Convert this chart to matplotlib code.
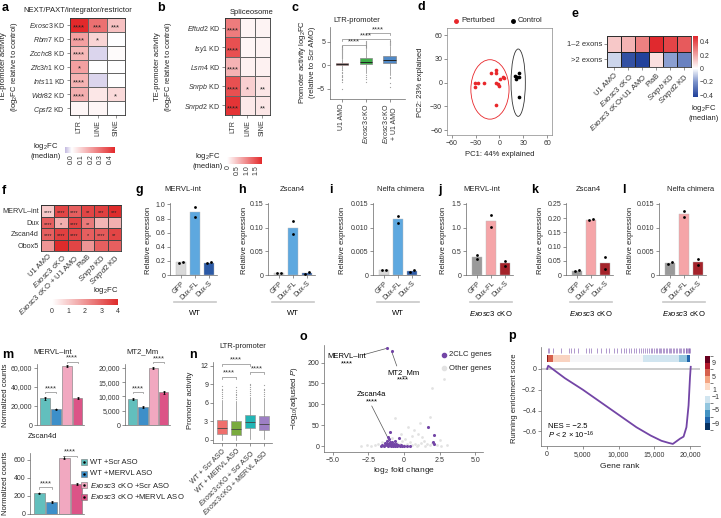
import numpy as np
import matplotlib
matplotlib.use('Agg')
import matplotlib.pyplot as plt
from matplotlib.colors import LinearSegmentedColormap, Normalize, ListedColormap, BoundaryNorm
from matplotlib.cm import ScalarMappable
from matplotlib.patches import Ellipse, Rectangle
from matplotlib.lines import Line2D

plt.rcParams['font.family'] = ['Liberation Sans', 'DejaVu Sans']
plt.rcParams['mathtext.fontset'] = 'custom'
plt.rcParams['mathtext.rm'] = 'Liberation Sans'
plt.rcParams['mathtext.it'] = 'Liberation Sans:italic'
plt.rcParams['mathtext.bf'] = 'Liberation Sans:bold'
plt.rcParams['font.size'] = 5
plt.rcParams['axes.linewidth'] = 0.5
plt.rcParams['axes.edgecolor'] = '#666666'
for k in ['xtick', 'ytick']:
    plt.rcParams[k + '.major.width'] = 0.5
    plt.rcParams[k + '.major.size'] = 2
    plt.rcParams[k + '.major.pad'] = 1.5
    plt.rcParams[k + '.labelsize'] = 5
    plt.rcParams[k + '.color'] = '#666666'
    plt.rcParams[k + '.labelcolor'] = '#333333'

# ---------------- data ----------------
te_cols = ['LTR', 'LINE', 'SINE']
a_rows = [r'$\it{Exosc3}$ KD', r'$\it{Rbm7}$ KD', r'$\it{Zcchc8}$ KD', r'$\it{Zfc3h1}$ KO',
          r'$\it{Ints11}$ KD', r'$\it{Wdr82}$ KD', r'$\it{Cpsf2}$ KD']
a_vals = [[0.45, 0.30, 0.13], [0.20, 0.09, 0.0], [0.15, -0.04, 0.01], [0.20, 0.0, 0.0],
          [0.16, -0.04, 0.0], [0.17, 0.05, 0.08], [0.02, 0.02, 0.0]]
a_stars = [['****', '***', '***'], ['****', '*', ''], ['****', '', ''], ['*', '', ''],
           ['****', '', ''], ['****', '', '*'], ['', '', '']]

b_rows = [r'$\it{Eftud2}$ KD', r'$\it{Isy1}$ KD', r'$\it{Lsm4}$ KD', r'$\it{Snrpb}$ KD', r'$\it{Snrpd2}$ KD']
b_vals = [[1.1, 0.02, 0.03], [1.5, 0.01, 0.03], [0.6, 0.05, 0.05], [1.5, 0.35, 0.15], [1.75, 0.12, 0.15]]
b_stars = [['****', '', ''], ['****', '', ''], ['****', '', ''], ['****', '*', '**'], ['****', '', '**']]

c_groups = ['U1 AMO', r'$\it{Exosc3}$ cKO', r'$\it{Exosc3}$ cKO' + '\n+ U1 AMO']
c_med = [0.25, 0.8, 1.1]
c_q1 = [0.0, 0.25, 0.4]
c_q3 = [0.6, 1.6, 2.0]
c_lo = [-0.8, -1.6, -2.0]
c_hi = [1.4, 3.6, 4.2]
c_fliers = [[-5.0, -3.6, -3.2, -2.9, -2.6, -2.3, -2.0, -1.7, -1.4, -1.1, 1.6, 1.8, 2.0, 2.2, 2.4,
             2.6, 2.8, 3.0, 3.2, 3.4, 3.6, 3.8, 4.0, 4.2],
            [-3.6, -3.0, -2.5, -2.1, 3.8, 4.0, 4.2, 4.4, 4.6, 4.8, 5.0, 5.2],
            [-4.6, -3.8, -2.8, -2.4, 4.4, 4.6, 4.8, 5.0, 5.2]]

d_pert_x = [-31, -31, -27, -20, -11, -5, -5, -4, -1, 1, 4, 6, -4, -2]
d_pert_y = [-1, -6, -1, 0, 12, 16, 12, 0, -4, 5, 7, 6, -28, -2]
d_ctrl_x = [19, 21, 22, 24, 25, 25]
d_ctrl_y = [8, 5, 7, 7, 12, -18]

e_rows = ['1–2 exons', '>2 exons']
e_cols = ['U1 AMO', r'$\it{Exosc3}$ cKO', r'$\it{Exosc3}$ cKO+U1 AMO', 'PlaB',
          r'$\it{Snrpb}$ KD', r'$\it{Snrpd2}$ KD']
e_vals = [[0.12, 0.17, 0.28, 0.48, 0.42, 0.37], [-0.08, -0.38, -0.42, 0.07, -0.18, -0.25]]

f_rows = ['MERVL\u2013int', 'Dux', 'Zscan4d', 'Obox5']
f_cols = ['U1 AMO', r'$\it{Exosc3}$ cKO', r'$\it{Exosc3}$ cKO + U1 AMO', 'PlaB',
          r'$\it{Snrpb}$ KD', r'$\it{Snrpd2}$ KD']
f_vals = [[1.0, 3.5, 3.0, 3.5, 3.6, 4.0], [3.0, 1.5, 3.5, 2.5, 1.4, 1.5],
          [3.0, 3.6, 3.5, 3.0, 3.1, 3.5], [2.0, 4.0, 3.5, 2.0, 3.0, 3.0]]
f_stars = [['****', '****', '****', '**', '***', '***'], ['****', '*', '****', '**', '', ''],
           ['****', '****', '****', '*', '****', '**'], ['', '', '', '', '', '']]

dux_labels = ['GFP', 'Dux-FL', 'Dux-S']
g_reps = [[0.175, 0.185], [0.96, 0.82], [0.17, 0.18]]
h_reps = [[0.004, 0.004], [0.113, 0.087], [0.003, 0.007]]
i_reps = [[0.0011, 0.0011], [0.0125, 0.011], [0.0007, 0.0010]]
j_reps = [[0.42, 0.33], [1.26, 1.02], [0.30, 0.20]]
k_reps = [[0.013, 0.016], [0.193, 0.197], [0.062, 0.020]]
l_reps = [[0.0023, 0.0027], [0.0135, 0.0122], [0.0033, 0.0022]]

m_labels = ['WT +Scr ASO', 'WT +MERVL ASO', r'$\it{Exosc3}$ cKO +Scr ASO', r'$\it{Exosc3}$ cKO +MERVL ASO']
m_mervl = [28000, 16500, 62000, 28500]
m_mervl_err = [1500, 800, 1200, 1200]
m_mt2 = [9000, 6200, 20000, 11500]
m_mt2_err = [400, 300, 300, 600]
m_zscan = [228, 130, 625, 330]
m_zscan_err = [8, 12, 20, 12]

n_groups = ['WT + Scr ASO', 'WT + MERVL ASO', r'$\it{Exosc3}$ cKO + Scr ASO', r'$\it{Exosc3}$ cKO + MERVL ASO']
n_med = [2.0, 1.7, 2.9, 2.5]
n_q1 = [1.0, 0.8, 1.9, 1.6]
n_q3 = [3.2, 3.0, 4.0, 3.8]
n_lo = [0.0, 0.0, 0.2, 0.1]
n_hi = [6.5, 6.3, 7.0, 6.8]
n_fliers = [[6.8, 7.1, 7.4, 7.7, 8.0, 8.3, 8.7], [6.6, 6.9, 7.2, 7.5, 7.8, 8.1, 8.5],
            [7.3, 7.6, 7.9, 8.2, 8.5, 8.8, 9.1], [7.1, 7.4, 7.7, 8.0, 8.3, 8.8]]

o_clc_lfc = [-1.6, -1.5, -1.4, -1.3, -1.2, -1.2, -1.1, -1.1, -1.0, -1.0, -0.95, -0.9, -0.9, -0.85,
             -0.8, -0.8, -0.75, -0.7, -0.7, -0.65, -0.6, -0.55, -0.5, -0.45, -0.4, -0.3, -0.2,
             -0.1, 0.0, 0.2, 0.4, -1.3, -1.15, -1.05, -0.95, -0.6, -0.35, -1.0, -1.13, 1.7, 2.1,
             2.05, 2.1, -0.84, -1.17]
o_clc_p = [1, 2, 1, 3, 2, 5, 1, 4, 2, 7, 3, 1, 5, 9, 2, 4, 1, 6, 3, 2, 1, 4, 2, 1, 3, 1, 2, 1, 1,
           1, 1, 8, 12, 16, 11, 13, 19, 34, 21, 47, 26, 9, 4, 227, 236]
o_other_lfc = [-3.0, -2.6, -2.3, -2.0, -1.8, -1.5, -1.2, -0.8, -0.5, -0.3, 0.0, 0.2, 0.4, 0.6, 0.8,
               1.0, 1.2, 1.4, 1.6, 1.8, 2.0, 2.3, 2.6, 3.0, 0.3, -0.6, 1.8, 1.0, 1.3, 0.6, 2.5,
               1.1, 2.0, 2.8, -0.2, 0.9, 1.5, -0.1, 0.1, 0.7]
o_other_p = [1, 2, 1, 3, 6, 9, 14, 20, 8, 4, 2, 6, 10, 3, 5, 2, 8, 12, 4, 2, 7, 3, 1, 2, 45, 68,
             70, 30, 22, 25, 15, 55, 139, 160, 28, 1, 1, 12, 18, 38]

p_rank = [0, 150, 2500, 5000, 7500, 10000, 12500, 14500, 16000, 17000, 17600, 18000, 18600,
          19100, 19500, 19800, 20000, 20100]
p_es = [0.0, 0.03, -0.09, -0.20, -0.32, -0.44, -0.56, -0.64, -0.69, -0.71, -0.72, -0.70, -0.67,
        -0.65, -0.56, -0.35, -0.08, 0.02]
p_hits = [50, 300, 800, 1900, 3000, 3400, 3800, 4300, 5400, 5800, 6200, 7000, 7500, 8300, 8700,
          9400, 9800, 10300, 10700, 11100, 11400, 11800, 12100, 12500, 12800, 13100, 13400,
          13700, 14000, 14200, 14500, 14700, 15000, 15200, 15400, 15600, 15800, 16000, 16200,
          16400, 16600, 16800, 17000, 17200, 17400, 17600, 17800, 18000, 18200, 18400, 18600,
          18800, 19000, 19200, 19400, 19500, 19600, 19700, 19800, 19900, 20000]
p_strip_start = [0, 150, 800, 3200, 13400, 18400, 19600]
p_strip_end = [150, 800, 3200, 13400, 18400, 19600, 20050]
p_strip_col = ['#8b1a1a', '#d6604d', '#f9d3c1', '#f6f6f8', '#d1e5f0', '#92c5de', '#2166ac']
p_bar_colors = ['#053061', '#2166ac', '#4393c3', '#92c5de', '#d1e5f0', '#ffffff',
                '#fddbc7', '#f4a582', '#d6604d', '#b2182b', '#67001f']

# ---------------- helpers ----------------
W, H = 721.0, 518.0
fig = plt.figure(figsize=(7.21, 5.18), dpi=100)


def pax(x0, y0, x1, y1):
    return fig.add_axes([x0 / W, 1 - y1 / H, (x1 - x0) / W, (y1 - y0) / H])


def ftxt(x, y, s, **kw):
    kw.setdefault('ha', 'center')
    kw.setdefault('va', 'center')
    kw.setdefault('color', '#222222')
    fig.text(x / W, 1 - y / H, s, **kw)


def plabel(x, y, s):
    ftxt(x, y, s, ha='left', fontsize=9, fontweight='bold', color='black')


def lr_only(ax):
    ax.spines['top'].set_visible(False)
    ax.spines['right'].set_visible(False)


def heatmap(ax, vals, cmap, norm, rows, cols, stars=None, fs=5.5, edge='#666666'):
    arr = np.array(vals, dtype=float)
    ax.pcolormesh(arr, cmap=cmap, norm=norm, edgecolors=edge, linewidth=0.5)
    ax.set_xlim(0, arr.shape[1])
    ax.set_ylim(arr.shape[0], 0)
    ax.set_xticks(np.arange(arr.shape[1]) + 0.5)
    ax.set_yticks(np.arange(arr.shape[0]) + 0.5)
    ax.set_yticklabels(rows)
    ax.set_xticklabels(cols)
    if stars:
        for i, row in enumerate(stars):
            for j, s in enumerate(row):
                if s:
                    ax.text(j + 0.5, i + 0.68, s, ha='center', va='center', fontsize=fs, color='#222222')
    for sp in ax.spines.values():
        sp.set_color('#333333')
        sp.set_linewidth(0.6)


def bracket(ax, x1, x2, y, h, txt, fs=5.5):
    ax.plot([x1, x1, x2, x2], [y - h, y, y, y - h], color='#888888', lw=0.5, clip_on=False)
    ax.text((x1 + x2) / 2, y, txt, ha='center', va='bottom', fontsize=fs, color='#333333', clip_on=False)


def box_stats(med, q1, q3, lo, hi, fl):
    return [dict(med=m, q1=a, q3=b, whislo=c, whishi=d, fliers=f)
            for m, a, b, c, d, f in zip(med, q1, q3, lo, hi, fl)]


# ---------------- a ----------------
plabel(2, 8, 'a')
ftxt(78, 11, 'NEXT/PAXT/integrator/restrictor', fontsize=5.5)
cmap_a = LinearSegmentedColormap.from_list('a', [(0, '#c3b9e0'), (0.135, '#ffffff'), (1, '#e3292b')])
norm_a = Normalize(-0.07, 0.45)
ax = pax(70, 18, 125, 115)
heatmap(ax, a_vals, cmap_a, norm_a, a_rows, te_cols, a_stars)
ax.tick_params(axis='x', labelrotation=90)
ftxt(10, 67, 'TE-promoter activity\n(log$_2$FC relative to control)', rotation=90, fontsize=5.5)
cax = pax(65, 147, 115, 153)
cb = fig.colorbar(ScalarMappable(norm_a, cmap_a), cax=cax, orientation='horizontal')
cb.outline.set_visible(False)
cb.set_ticks([0, 0.1, 0.2, 0.3, 0.4])
cb.ax.tick_params(length=0, pad=1, labelrotation=90, labelsize=5)
ftxt(46, 151, 'log$_2$FC\n(median)', fontsize=5.5)

# ---------------- b ----------------
plabel(157, 8, 'b')
ftxt(252, 12, 'Spliceosome', fontsize=5.5)
cmap_b = LinearSegmentedColormap.from_list('b', ['#ffffff', '#e3292b'])
norm_b = Normalize(-0.08, 1.85)
ax = pax(225, 18, 270, 115)
heatmap(ax, b_vals, cmap_b, norm_b, b_rows, te_cols, b_stars)
ax.tick_params(axis='x', labelrotation=90)
ftxt(164, 67, 'TE-promoter activity\n(log$_2$FC relative to control)', rotation=90, fontsize=5.5)
cax = pax(227, 157, 262, 164)
cb = fig.colorbar(ScalarMappable(norm_b, cmap_b), cax=cax, orientation='horizontal')
cb.outline.set_visible(False)
cb.set_ticks([0, 0.5, 1.0, 1.5])
cb.set_ticklabels(['0', '0.5', '1.0', '1.5'])
cb.ax.tick_params(length=0, pad=1, labelrotation=90, labelsize=5)
ftxt(208, 160, 'log$_2$FC\n(median)', fontsize=5.5)

# ---------------- c ----------------
plabel(292, 8, 'c')
ftxt(357, 21, 'LTR-promoter', fontsize=5.5)
ax = pax(330, 27, 405, 99)
bp = ax.bxp(box_stats(c_med, c_q1, c_q3, c_lo, c_hi, c_fliers), positions=[0, 1, 2], widths=0.52,
            patch_artist=True, showfliers=True,
            flierprops=dict(marker='o', ms=0.9, mfc='#a0a0a0', mec='none'),
            medianprops=dict(color='#222222', lw=0.7),
            whiskerprops=dict(color='#888888', lw=0.5), capprops=dict(color='#888888', lw=0))
for patch, col in zip(bp['boxes'], ['#e25a5a', '#3fae49', '#5089c6']):
    patch.set_facecolor(col)
    patch.set_edgecolor('#888888')
    patch.set_linewidth(0.5)
ax.set_xlim(-0.5, 2.65)
ax.set_ylim(-7.2, 8.2)
ax.set_yticks([-5, 0, 5])
ax.set_yticklabels(['\u22125', '0', '5'])
ax.set_xticks([0, 1, 2])
ax.set_xticklabels(c_groups, rotation=90)
lr_only(ax)
bracket(ax, 0, 1, 4.3, 0.4, '****')
bracket(ax, 0, 2, 5.6, 0.4, '****')
bracket(ax, 1, 2, 6.9, 0.4, '****')
ftxt(307, 62, 'Promoter activity log$_2$FC\n(relative to Scr AMO)', rotation=90, fontsize=5.5)

# ---------------- d ----------------
plabel(417, 7, 'd')
ax = pax(447, 28, 552, 135)
ax.scatter(d_pert_x, d_pert_y, s=7, color='#e8262a', linewidths=0, zorder=3)
ax.scatter(d_ctrl_x, d_ctrl_y, s=7, color='black', linewidths=0, zorder=3)
ax.add_patch(Ellipse((-12, -8.5), 48, 75, fill=False, ec='#e8262a', lw=0.6))
ax.add_patch(Ellipse((23.5, 0), 18, 85, fill=False, ec='#333333', lw=0.6))
ax.set_xlim(-66, 66)
ax.set_ylim(-66, 69)
ax.set_xticks([-60, -30, 0, 30, 60])
ax.set_xticklabels(['\u221260', '\u221230', '0', '30', '60'])
ax.set_yticks([-60, -30, 0, 30, 60])
ax.set_yticklabels(['\u221260', '\u221230', '0', '30', '60'])
for sp in ax.spines.values():
    sp.set_color('#888888')
ftxt(500, 155, 'PC1: 44% explained', fontsize=5.5)
ftxt(421, 82, 'PC2: 23% explained', rotation=90, fontsize=5.5)
fig.add_artist(Line2D([456 / W], [1 - 21 / H], marker='o', ms=2.5, color='#e8262a', lw=0, transform=fig.transFigure))
ftxt(461, 21, 'Perturbed', ha='left', fontsize=5.5)
fig.add_artist(Line2D([513 / W], [1 - 21 / H], marker='o', ms=2.5, color='black', lw=0, transform=fig.transFigure))
ftxt(518, 21, 'Control', ha='left', fontsize=5.5)

# ---------------- e ----------------
plabel(571, 14, 'e')
cmap_e = LinearSegmentedColormap.from_list('e', [(0, '#1f3f99'), (0.25, '#7f95cc'), (0.467, '#ffffff'),
                                                  (0.75, '#ee8a8a'), (1, '#e0262b')])
norm_e = Normalize(-0.43, 0.49)
ax = pax(607, 36, 691, 67)
heatmap(ax, e_vals, cmap_e, norm_e, e_rows, e_cols, edge='#222222')
ax.set_xticklabels(e_cols, rotation=45, ha='right', rotation_mode='anchor')
ax.tick_params(labelsize=5.5)
cax = pax(693, 36, 698, 97)
cb = fig.colorbar(ScalarMappable(norm_e, cmap_e), cax=cax, orientation='vertical')
cb.outline.set_visible(False)
cb.set_ticks([0.4, 0.2, 0, -0.2, -0.4])
cb.set_ticklabels(['0.4', '0.2', '0', '\u22120.2', '\u22120.4'])
cb.ax.tick_params(length=0, pad=1.5, labelsize=5)
ftxt(704, 112, 'log$_2$FC\n(median)', fontsize=5.5)

# ---------------- f ----------------
plabel(2, 191, 'f')
cmap_f = LinearSegmentedColormap.from_list('f', ['#ffffff', '#de2b2b'])
norm_f = Normalize(0, 4)
ax = pax(41, 205, 121, 251)
heatmap(ax, f_vals, cmap_f, norm_f, f_rows, f_cols, f_stars, fs=4, edge='#444444')
ax.set_xticklabels(f_cols, rotation=45, ha='right', rotation_mode='anchor')
ax.tick_params(axis='x', labelsize=5.5, length=0)
ax.tick_params(axis='y', labelsize=5.2, length=0, pad=1.5)
cax = pax(52, 299, 118, 305)
cb = fig.colorbar(ScalarMappable(norm_f, cmap_f), cax=cax, orientation='horizontal')
cb.outline.set_visible(False)
cb.set_ticks([0, 1, 2, 3, 4])
cb.ax.tick_params(length=0, pad=2, labelsize=5)
ftxt(118, 291, 'log$_2$FC', ha='right', fontsize=5.5)

# ---------------- g-l ----------------
wt_cols = ['#d9d9d9', '#5ea8df', '#2c5aa6']
ko_cols = ['#9a9a9a', '#f5a5a8', '#a5232a']
bar_specs = [
    ('g', 136, 170, 183, 'MERVL-int', g_reps, wt_cols, 1.02, [0, 0.2, 0.4, 0.6, 0.8, 1.0],
     ['0', '0.2', '0.4', '0.6', '0.8', '1.0'], 'WT', 148),
    ('h', 238, 268, 292, 'Zscan4', h_reps, wt_cols, 0.152, [0, 0.05, 0.10, 0.15],
     ['0', '0.05', '0.10', '0.15'], 'WT', 245),
    ('i', 329, 373, 401, 'Nelfa chimera', i_reps, wt_cols, 0.0152, [0, 0.005, 0.010, 0.015],
     ['0', '0.005', '0.010', '0.015'], 'WT', 343),
    ('j', 438, 466, 482, 'MERVL-int', j_reps, ko_cols, 1.52, [0, 0.5, 1.0, 1.5],
     ['0', '0.5', '1.0', '1.5'], r'$\it{Exosc3}$ cKO', 444),
    ('k', 531, 566, 588, 'Zscan4', k_reps, ko_cols, 0.253, [0, 0.05, 0.10, 0.15, 0.20, 0.25],
     ['0', '0.05', '0.10', '0.15', '0.20', '0.25'], r'$\it{Exosc3}$ cKO', 540),
    ('l', 622, 659, 691, 'Nelfa chimera', l_reps, ko_cols, 0.0152, [0, 0.005, 0.010, 0.015],
     ['0', '0.005', '0.010', '0.015'], r'$\it{Exosc3}$ cKO', 631),
]
for lab, lx, axx, tx, title, reps, cols, ymax, yt, ytl, grp, ylx in bar_specs:
    plabel(lx, 190, lab)
    ftxt(tx, 190, title, fontsize=5.5)
    ax = pax(axx, 203, axx + 47, 275)
    means = [np.mean(r) for r in reps]
    x = np.arange(3)
    ax.bar(x, means, width=0.65, color=cols, edgecolor='#bbbbbb', linewidth=0.3)
    for xi, r in zip(x, reps):
        off = np.array([-0.14, 0.14]) if abs(r[0] - r[1]) < 0.05 * ymax else np.array([0.0, 0.0])
        ax.scatter(xi + off, r, s=4, color='black', linewidths=0, zorder=3)
    ax.set_xlim(-0.78, 2.57)
    ax.set_ylim(0, ymax)
    ax.set_yticks(yt)
    ax.set_yticklabels(ytl)
    ax.set_xticks(x)
    ax.set_xticklabels(dux_labels, rotation=45, ha='right', rotation_mode='anchor')
    lr_only(ax)
    ax.plot([0.08, 0.98], [-0.38, -0.38], transform=ax.transAxes, clip_on=False, color='#c8c8c8', lw=1.2)
    ax.text(0.53, -0.53, grp, transform=ax.transAxes, ha='center', va='center', fontsize=5.5)
    ftxt(ylx, 240, 'Relative expression', rotation=90, fontsize=5.5)

# ---------------- m ----------------
plabel(2, 355, 'm')
m_cols = ['#62bfbd', '#3d8fc9', '#f1a8c0', '#dc5487']


def m_panel(ax, vals, errs, ymax, yt, ytl):
    x = np.arange(4)
    ax.bar(x, vals, width=0.9, color=m_cols, edgecolor='#777777', linewidth=0.4)
    ax.errorbar(x, vals, yerr=errs, fmt='none', ecolor='black', elinewidth=0.6, capsize=0.8, capthick=0.5)
    ax.scatter(x, vals, s=1.5, color='black', linewidths=0, zorder=3)
    ax.set_xlim(-0.75, 3.6)
    ax.set_ylim(0, ymax)
    ax.set_yticks(yt)
    ax.set_yticklabels(ytl)
    ax.set_xticks([])
    lr_only(ax)


ax = pax(37, 364, 84, 425)
m_panel(ax, m_mervl, m_mervl_err, 64000, [0, 20000, 40000, 60000], ['0', '20,000', '40,000', '60,000'])
bracket(ax, 0, 1, 34700, 1500, '****')
bracket(ax, 2, 3, 66300, 1500, '****')
ftxt(53, 352, 'MERVL\u2013int', fontsize=5.5)

ax = pax(125, 364, 170, 425)
m_panel(ax, m_mt2, m_mt2_err, 21400, [0, 5000, 10000, 15000, 20000], ['0', '5,000', '10,000', '15,000', '20,000'])
bracket(ax, 0, 1, 11600, 500, '****')
bracket(ax, 2, 3, 22100, 500, '****')
ftxt(142, 352, 'MT2_Mm', fontsize=5.5)

ax = pax(30, 453, 84, 514)
m_panel(ax, m_zscan, m_zscan_err, 676, [0, 200, 400, 600], ['0', '200', '400', '600'])
bracket(ax, 0, 1, 295, 15, '****')
bracket(ax, 2, 3, 645, 15, '****')
ftxt(42, 437, 'Zscan4d', fontsize=5.5)
ftxt(6, 395, 'Normalized counts', rotation=90, fontsize=5.5)
ftxt(6, 483, 'Normalized counts', rotation=90, fontsize=5.5)

for i, (lab, col) in enumerate(zip(m_labels, m_cols)):
    yy = 462 + i * 11.5
    fig.add_artist(Rectangle((81 / W, 1 - (yy + 3) / H), 6 / W, 6 / H, transform=fig.transFigure,
                             facecolor=col, edgecolor='#777777', lw=0.4))
    fig.add_artist(Line2D([84 / W], [1 - yy / H], marker='o', ms=0.8, color='black', lw=0,
                          transform=fig.transFigure))
    ftxt(90, yy, lab, ha='left', fontsize=5.5)

# ---------------- n ----------------
plabel(189, 355, 'n')
ftxt(243, 346, 'LTR-promoter', fontsize=5.5)
ax = pax(213, 362, 272, 443)
bp = ax.bxp(box_stats(n_med, n_q1, n_q3, n_lo, n_hi, n_fliers), positions=[0, 1, 2, 3], widths=0.72,
            patch_artist=True, showfliers=True,
            flierprops=dict(marker='o', ms=0.9, mfc='#a0a0a0', mec='none'),
            medianprops=dict(color='#444444', lw=0.6),
            whiskerprops=dict(color='#888888', lw=0.5), capprops=dict(color='#888888', lw=0))
for patch, col in zip(bp['boxes'], ['#ef6f6c', '#7aab3f', '#22b5b5', '#9d7fc4']):
    patch.set_facecolor(col)
    patch.set_edgecolor('#999999')
    patch.set_linewidth(0.5)
ax.set_xlim(-0.64, 3.57)
ax.set_ylim(-0.5, 12.6)
ax.set_yticks([0, 3, 6, 9, 12])
ax.set_xticks([0, 1, 2, 3])
ax.set_xticklabels(n_groups, rotation=45, ha='right', rotation_mode='anchor')
lr_only(ax)
bracket(ax, 0, 1, 10.2, 0.4, '****')
bracket(ax, 0, 2, 12.3, 0.4, '****')
bracket(ax, 2, 3, 11.0, 0.4, '****')
ftxt(191, 400, 'Promoter activity', rotation=90, fontsize=5.5)

# ---------------- o ----------------
plabel(299, 337, 'o')
ax = pax(324, 345, 483, 452)
ax.scatter(o_other_lfc, o_other_p, s=4, color='#e2e2e2', linewidths=0, zorder=2)
ax.scatter(o_clc_lfc, o_clc_p, s=5, color='#7345a6', linewidths=0, zorder=3)
ax.set_xlim(-5.6, 5.55)
ax.set_ylim(-14, 242)
ax.set_xticks([-5, -2.5, 0, 2.5, 5])
ax.set_xticklabels(['\u22125.0', '\u22122.5', '0', '2.5', '5.0'])
ax.set_yticks([0, 50, 100, 150, 200])
lr_only(ax)
ax.plot([-2.9, -1.2], [218, 234], color='#555555', lw=0.5)
ax.text(-4.0, 205, 'MERVL\u2013int\n****', ha='center', va='center', fontsize=5.5, linespacing=1.0)
ax.plot([-0.84, -0.5], [225, 192], color='#555555', lw=0.5)
ax.text(-0.05, 166, 'MT2_Mm\n****', ha='center', va='center', fontsize=5.5, linespacing=1.0)
ax.plot([-2.25, -1.15], [96, 22], color='#555555', lw=0.5)
ax.text(-2.25, 114, 'Zscan4a\n****', ha='center', va='center', fontsize=5.5, linespacing=1.0)
ftxt(404, 470, 'log$_2$ fold change', fontsize=6)
ftxt(294, 398, '\u2212log$_{10}$(adjusted $\\it{P}$)', rotation=90, fontsize=5.5)
fig.add_artist(Line2D([444 / W], [1 - 355 / H], marker='o', ms=3, color='#7345a6', lw=0, transform=fig.transFigure))
ftxt(449, 355, '2CLC genes', ha='left', fontsize=5.5)
fig.add_artist(Line2D([444 / W], [1 - 368 / H], marker='o', ms=3, color='#e2e2e2', lw=0, transform=fig.transFigure))
ftxt(449, 368, 'Other genes', ha='left', fontsize=5.5)

# ---------------- p ----------------
plabel(508, 336, 'p')
ax = pax(541, 347, 700, 446)
ax.axhline(0, color='#cccccc', lw=1.4, zorder=1)
ax.plot(p_rank, p_es, color='#7345a6', lw=1.3, zorder=3)
ax.vlines(p_hits, 0.155, 0.2, color='#7d55ad', lw=0.6, alpha=0.7)
for s0, s1, col in zip(p_strip_start, p_strip_end, p_strip_col):
    ax.add_patch(Rectangle((s0, 0.067), s1 - s0, 0.066, facecolor=col, edgecolor='none'))
ax.set_xlim(-860, 21400)
ax.set_ylim(-0.74, 0.21)
ax.set_yticks([0, -0.2, -0.4, -0.6])
ax.set_yticklabels(['0', '\u22120.2', '\u22120.4', '\u22120.6'])
ax.set_xticks([0, 5000, 10000, 15000, 20000])
ax.set_xticklabels(['0', '5,000', '10,000', '15,000', '20,000'])
lr_only(ax)
ax.text(100, -0.57, 'NES = \u22122.5', fontsize=5.5)
ax.text(100, -0.67, '$\\it{P}$ < 2 \u00d7 10$^{-16}$', fontsize=5.5)
ftxt(620, 467, 'Gene rank', fontsize=6)
ftxt(514, 398, 'Running enrichment score', rotation=90, fontsize=5.5)
cax = pax(705, 356, 710, 430)
bounds = np.arange(-11, 12, 2)
cb = fig.colorbar(ScalarMappable(BoundaryNorm(bounds, 11), ListedColormap(p_bar_colors)), cax=cax,
                  orientation='vertical')
cb.outline.set_visible(False)
cb.set_ticks([9, 5, 1, -1, -5, -9])
cb.set_ticklabels(['9', '5', '1', '\u22121', '\u22125', '\u22129'])
cb.ax.tick_params(length=0, pad=1.5, labelsize=5)

fig.savefig('out.png', dpi=100)
